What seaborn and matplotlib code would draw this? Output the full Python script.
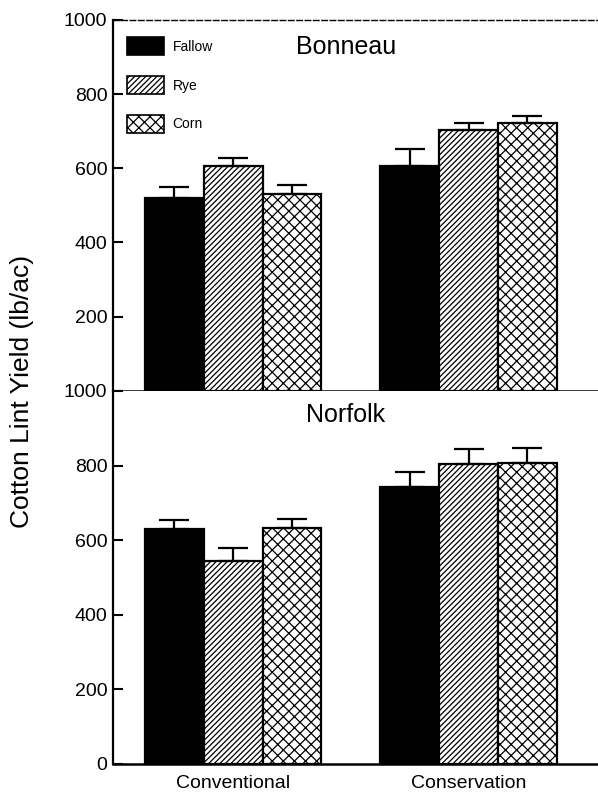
import pandas as pd
import numpy as np
import matplotlib
matplotlib.use("Agg")
import matplotlib.pyplot as plt
import seaborn as sns

tillage = ['Conventional', 'Conservation']
covers = ['Fallow', 'Rye', 'Corn']

# Bonneau yields / errors, order: Fallow, Rye, Corn for each tillage
bon_conv = [520, 607, 530]
bon_cons = [607, 703, 722]
bon_conv_err = [30, 22, 25]
bon_cons_err = [45, 18, 18]

nor_conv = [630, 545, 633]
nor_cons = [742, 805, 808]
nor_conv_err = [25, 35, 25]
nor_cons_err = [40, 40, 38]

sns.set_style('ticks')
plt.rcParams['font.family'] = ['Liberation Sans', 'DejaVu Sans']
plt.rcParams['hatch.linewidth'] = 0.9
plt.rcParams['text.color'] = 'black'
plt.rcParams['xtick.color'] = 'black'
plt.rcParams['ytick.color'] = 'black'
plt.rcParams['axes.edgecolor'] = 'black'

fig = plt.figure(figsize=(5.98, 7.93), dpi=100)
ax1 = fig.add_axes([0.189, 0.507, 0.811, 0.468])
ax2 = fig.add_axes([0.189, 0.0366, 0.811, 0.4704], sharex=ax1)

hatches = ['', '//////', 'xxx']


def panel(ax, conv, cons, conv_err, cons_err, title, title_y, show_legend):
    df = pd.DataFrame({
        'tillage': [t for t in tillage for c in covers],
        'cover': covers * 2,
        'yield': conv + cons,
    })
    errs = {c: [conv_err[i], cons_err[i]] for i, c in enumerate(covers)}
    sns.barplot(data=df, x='tillage', y='yield', hue='cover', order=tillage,
                hue_order=covers, palette=['black', 'white', 'white'],
                edgecolor='black', linewidth=1.6, width=0.75, gap=0,
                saturation=1, errorbar=None, legend=show_legend, ax=ax)
    for cont, c, h in zip(ax.containers, covers, hatches):
        xs, ys = [], []
        for bar in cont:
            bar.set_hatch(h)
            xs.append(bar.get_x() + bar.get_width() / 2)
            ys.append(bar.get_height())
        e = errs[c]
        ax.errorbar(xs, ys, yerr=[np.zeros(len(e)), e], fmt='none',
                    ecolor='black', elinewidth=1.6, capsize=11, capthick=1.6,
                    zorder=1)
    ax.text(0.48, title_y, title, transform=ax.transAxes, ha='center',
            va='center', fontsize=18)
    ax.set_ylim(0, 1000)
    ax.set_yticks([0, 200, 400, 600, 800, 1000])
    ax.set_xlim(-0.51, 1.55)
    ax.set_xlabel('')
    ax.set_ylabel('')
    ax.tick_params(axis='y', direction='in', length=7, width=1.5,
                   labelsize=14, pad=4)
    ax.tick_params(axis='x', length=0)
    ax.spines['right'].set_visible(False)
    ax.spines['left'].set_linewidth(1.6)
    ax.spines['bottom'].set_linewidth(1.8)


panel(ax1, bon_conv, bon_cons, bon_conv_err, bon_cons_err, 'Bonneau', 0.927, True)
panel(ax2, nor_conv, nor_cons, nor_conv_err, nor_cons_err, 'Norfolk', 0.936, False)

ax1.set_yticklabels(['', '200', '400', '600', '800', '1000'])
ax1.spines['top'].set_linestyle((0, (4, 2)))
ax1.spines['top'].set_linewidth(1.0)
ax1.tick_params(axis='x', labelbottom=False)
ax2.spines['top'].set_visible(False)
ax2.tick_params(axis='x', labelsize=14, pad=8)

leg = ax1.legend(loc='upper left', bbox_to_anchor=(0.0, 0.99), frameon=False,
                 fontsize=10, handlelength=2.7, handleheight=1.6,
                 labelspacing=1.5, handletextpad=0.6, borderaxespad=0.6)
for p, h in zip(leg.get_patches(), hatches):
    p.set_hatch(h)
    p.set_linewidth(1.2)

fig.text(0.037, 0.507, 'Cotton Lint Yield (lb/ac)', rotation=90,
         ha='center', va='center', fontsize=19)

fig.savefig('out.png', dpi=100)
